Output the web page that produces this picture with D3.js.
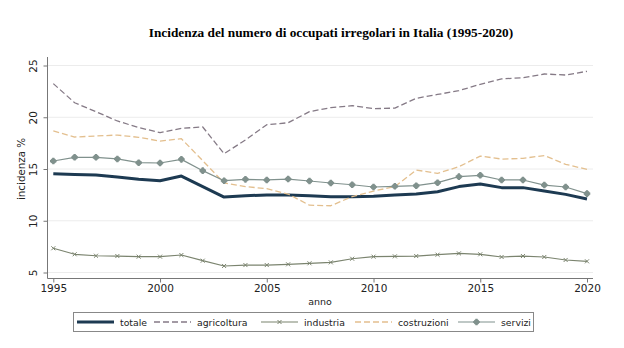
<!DOCTYPE html>
<html>
<head>
<meta charset="utf-8">
<script src="https://cdn.jsdelivr.net/npm/d3@7"></script>
<style>
  body { margin: 0; background: #fff; }
  text { font-family: "DejaVu Sans", sans-serif; fill: #222; }
  .title { font-family: "Liberation Serif", "Times New Roman", serif; font-weight: bold; font-size: 13.3px; fill: #000; }
</style>
</head>
<body>
<div id="chart"></div>
<script>
var svgWidth = 624;
var svgHeight = 348;

// Years and series (percent of irregular workers)
var anni = d3.range(1995, 2021);
var totale = [14.55, 14.48, 14.42, 14.23, 14.0, 13.87, 14.32, 13.3, 12.29, 12.42, 12.49, 12.49, 12.42, 12.33, 12.33, 12.36,
  12.49, 12.58, 12.8, 13.3, 13.55, 13.2, 13.2, 12.87, 12.55, 12.1];
var agricoltura = [23.25, 21.4, 20.54, 19.64, 19.0, 18.52, 18.93, 19.06, 16.48, 17.8, 19.28, 19.47, 20.54, 20.93, 21.12, 20.83,
  20.88, 21.83, 22.2, 22.57, 23.18, 23.7, 23.82, 24.18, 24.08, 24.44];
var industria = [7.34, 6.76, 6.62, 6.59, 6.53, 6.53, 6.69, 6.14, 5.63, 5.72, 5.72, 5.79, 5.89, 5.98, 6.33, 6.53,
  6.56, 6.59, 6.72, 6.85, 6.76, 6.5, 6.59, 6.5, 6.21, 6.08];
var costruzioni = [18.68, 18.09, 18.19, 18.28, 18.06, 17.7, 17.93, 15.8, 13.65, 13.3, 13.1, 12.58, 11.5, 11.45, 12.33, 12.87,
  13.3, 14.9, 14.58, 15.22, 16.25, 15.96, 16.03, 16.3, 15.45, 14.97];
var servizi = [15.77, 16.13, 16.13, 15.97, 15.61, 15.58, 15.93, 14.84, 13.87, 14.0, 13.94, 14.03, 13.84, 13.65, 13.48, 13.26,
  13.33, 13.39, 13.68, 14.26, 14.39, 13.94, 13.94, 13.45, 13.26, 12.62];

var xTicks = [1995, 2000, 2005, 2010, 2015, 2020];
var yTicks = [5, 10, 15, 20, 25];

var series = [
  { name: "totale", values: totale, color: "#1d3a52", width: 3, dash: null, marker: null },
  { name: "agricoltura", values: agricoltura, color: "#857a86", width: 1.3, dash: "6,3", marker: null },
  { name: "industria", values: industria, color: "#7b846f", width: 1.2, dash: null, marker: "x" },
  { name: "costruzioni", values: costruzioni, color: "#e3bf8e", width: 1.3, dash: "6,3", marker: null },
  { name: "servizi", values: servizi, color: "#80918d", width: 1.2, dash: null, marker: "diamond" }
];

var x = d3.scaleLinear().domain([1995, 2020]).range([53.3, 587]);
var y = d3.scaleLinear().domain([5, 25]).range([272.5, 65.5]);

var svg = d3.select("#chart")
  .append("svg")
  .attr("width", svgWidth)
  .attr("height", svgHeight);

// Title
svg.append("text")
  .attr("class", "title")
  .attr("x", 331)
  .attr("y", 37)
  .attr("text-anchor", "middle")
  .text("Incidenza del numero di occupati irregolari in Italia (1995-2020)");

// Gridlines
svg.append("g").selectAll("line")
  .data(yTicks)
  .enter()
  .append("line")
  .attr("x1", 48)
  .attr("x2", 593)
  .attr("y1", d => y(d))
  .attr("y2", d => y(d))
  .attr("stroke", "#ececec")
  .attr("stroke-width", 1);

// Axes
var leftAxis = d3.axisLeft(y).tickValues(yTicks).tickSize(4).tickPadding(4);
var bottomAxis = d3.axisBottom(x).tickValues(xTicks).tickFormat(d3.format("d")).tickSize(4).tickPadding(2);

var gy = svg.append("g")
  .attr("transform", "translate(47.5,0)")
  .call(leftAxis);
gy.select(".domain").attr("d", "M0,57V278.5");
gy.selectAll("text")
  .attr("transform", "rotate(-90)")
  .attr("x", 0)
  .attr("y", -11)
  .attr("dy", "0")
  .attr("text-anchor", "middle")
  .style("font-size", "10.5px");

var gx = svg.append("g")
  .attr("transform", "translate(0,278.5)")
  .call(bottomAxis);
gx.select(".domain").attr("d", "M47.5,0H593");
gx.selectAll("text").style("font-size", "10.5px");

svg.selectAll(".domain, .tick line").attr("stroke", "#777");

// Axis titles
svg.append("text")
  .attr("transform", "translate(25,169) rotate(-90)")
  .attr("text-anchor", "middle")
  .style("font-size", "10.3px")
  .text("incidenza %");

svg.append("text")
  .attr("x", 320)
  .attr("y", 305)
  .attr("text-anchor", "middle")
  .style("font-size", "9.5px")
  .text("anno");

// Lines
var line = d3.line()
  .x((d, i) => x(anni[i]))
  .y(d => y(d));

var groups = svg.append("g").selectAll("g")
  .data(series)
  .enter()
  .append("g");

groups.append("path")
  .attr("d", d => line(d.values))
  .attr("fill", "none")
  .attr("stroke", d => d.color)
  .attr("stroke-width", d => d.width)
  .attr("stroke-dasharray", d => d.dash)
  .attr("stroke-linejoin", "round");

function drawMarker(sel, type, color) {
  if (type === "diamond") {
    sel.append("path")
      .attr("d", d3.symbol().type(d3.symbolCircle).size(24))
      .attr("fill", color);
    sel.append("path")
      .attr("d", d3.symbol().type(d3.symbolCross).size(24))
      .attr("fill", color);
  } else if (type === "x") {
    sel.append("path")
      .attr("d", "M-2,-2L2,2M-2,2L2,-2")
      .attr("stroke", color)
      .attr("stroke-width", 1);
  }
}

groups.filter(d => d.marker).each(function(s) {
  d3.select(this).selectAll("g.pt")
    .data(s.values)
    .enter()
    .append("g")
    .attr("class", "pt")
    .attr("transform", (d, i) => `translate(${x(anni[i])},${y(d)})`)
    .each(function() { drawMarker(d3.select(this), s.marker, s.color); });
});

// Legend
var legend = svg.append("g");
legend.append("rect")
  .attr("x", 73.5)
  .attr("y", 312.5)
  .attr("width", 460)
  .attr("height", 19)
  .attr("fill", "#fff")
  .attr("stroke", "#888")
  .attr("stroke-width", 1);

var legendX = [77, 154, 261, 355, 458];
series.forEach(function(s, i) {
  var g = legend.append("g").attr("transform", `translate(${legendX[i]},322)`);
  g.append("line")
    .attr("x1", 0).attr("x2", 37)
    .attr("stroke", s.color)
    .attr("stroke-width", s.width)
    .attr("stroke-dasharray", s.dash);
  if (s.marker) {
    var m = g.append("g").attr("transform", "translate(18.5,0)");
    drawMarker(m, s.marker, s.color);
  }
  g.append("text")
    .attr("x", 43)
    .attr("y", 3.5)
    .style("font-size", "9.3px")
    .text(s.name);
});
</script>
</body>
</html>
